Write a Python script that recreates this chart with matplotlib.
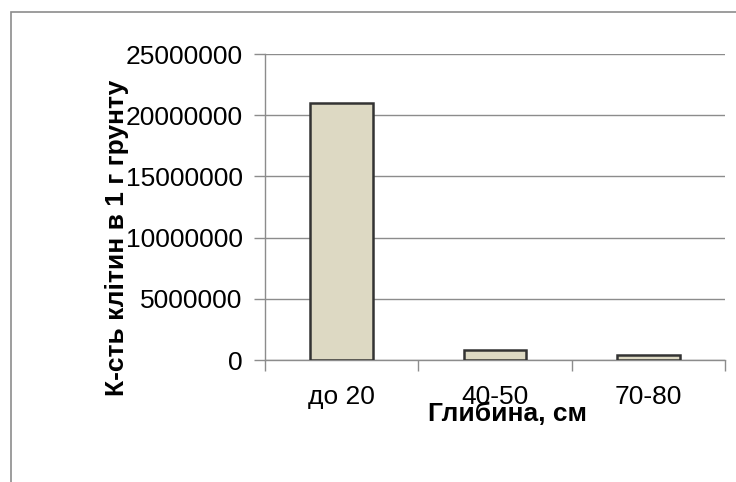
import matplotlib.pyplot as plt
from matplotlib.patches import Rectangle
from matplotlib.ticker import FuncFormatter, FixedLocator

plt.rcParams['font.family'] = ['Liberation Sans', 'DejaVu Sans']

depths = ["до 20", "40-50", "70-80"]
cells_per_gram = [21000000, 800000, 400000]

fig = plt.figure(figsize=(7.36, 4.82), dpi=100)

# outer chart border (only left and top edges fall inside the canvas)
fig.patches.append(Rectangle((10.5 / 736, -0.1), 1.2, 1.1 - 11.5 / 482,
                             transform=fig.transFigure, fill=False,
                             edgecolor="#8c8c8c", linewidth=1.2))

ax = fig.add_axes([265 / 736, 1 - 360 / 482, 460 / 736, 306 / 482])
x = range(len(depths))
ax.bar(x, cells_per_gram, width=0.41, color="#ddd9c3",
       edgecolor="#333333", linewidth=1.8, zorder=3)

ax.set_xlim(-0.5, 2.5)
ax.set_ylim(0, 25000000)
ax.set_yticks(range(0, 25000001, 5000000))
ax.yaxis.set_major_formatter(FuncFormatter(lambda v, _: f"{int(v)}"))
ax.set_xticks(list(x))
ax.set_xticklabels(depths)
ax.xaxis.set_minor_locator(FixedLocator([-0.5, 0.5, 1.5, 2.5]))

ax.grid(axis="y", color="#8c8c8c", linewidth=1.0, zorder=0)
for side in ("top", "right"):
    ax.spines[side].set_visible(False)
for side in ("left", "bottom"):
    ax.spines[side].set_color("#8c8c8c")
    ax.spines[side].set_linewidth(1.0)

ax.tick_params(axis="y", length=8, width=1.0, color="#8c8c8c",
               labelsize=19, pad=8)
ax.tick_params(axis="x", which="major", length=0, labelsize=19, pad=18)
ax.tick_params(axis="x", which="minor", length=8, width=1.0,
               color="#8c8c8c")

fig.text(117 / 736, 1 - 238 / 482, "К-сть клітин в 1 г грунту",
         rotation=90, ha="center", va="center", fontsize=19,
         fontweight="bold")
fig.text(508 / 736, 1 - 414 / 482, "Глибина, см", ha="center",
         va="center", fontsize=19, fontweight="bold")

fig.savefig("out.png", dpi=100)
